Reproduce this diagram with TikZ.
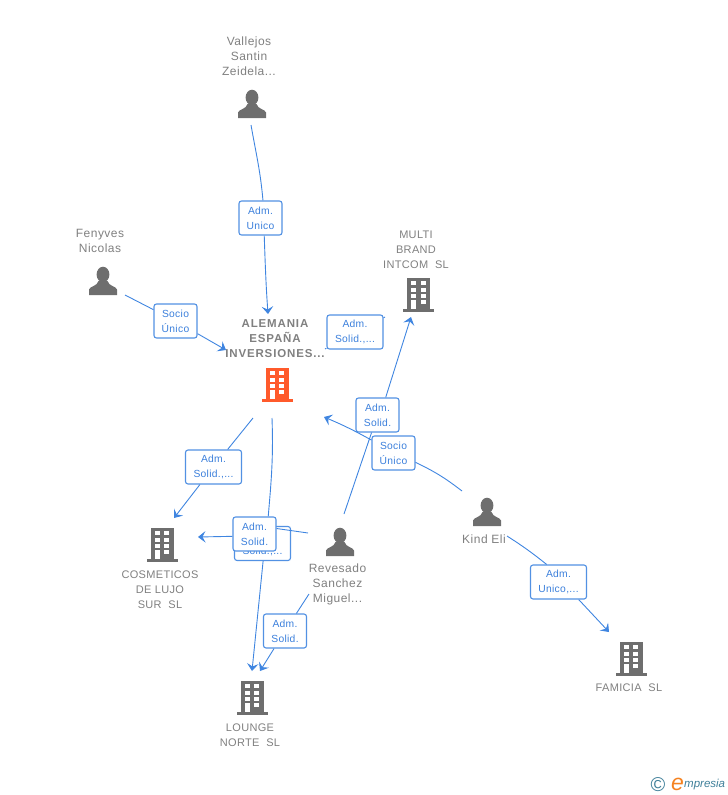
\documentclass[tikz,border=0pt]{standalone}
\usepackage{fontspec}
\setmainfont{Liberation Sans}
\usetikzlibrary{arrows.meta, positioning}

\definecolor{namegray}{HTML}{808080}
\definecolor{icongray}{HTML}{6E6E6E}
\definecolor{linkblue}{HTML}{3F85E0}
\definecolor{labelblue}{HTML}{3C80DC}
\definecolor{mainorange}{HTML}{FF5A2B}
\definecolor{logoteal}{HTML}{3F7F99}
\definecolor{logoorange}{HTML}{F58220}

\tikzset{
    entity/.style={text=namegray, font=\fontsize{11}{15}\selectfont\addfontfeatures{LetterSpace=3}, align=center, inner sep=0pt},
    personname/.style={entity, font=\fontsize{12}{15}\selectfont\addfontfeatures{LetterSpace=4}},
    mainentity/.style={entity, font=\fontsize{11.5}{15}\selectfont\bfseries\addfontfeatures{LetterSpace=7.5}},
    rolebox/.style={draw=linkblue!90!white, line width=1.1pt, fill=white, rounded corners=2.5pt, text=labelblue,
        font=\fontsize{10.3}{15}\selectfont\addfontfeatures{LetterSpace=3}, align=center, inner sep=0pt, minimum height=34pt},
    rolea/.style={rolebox, minimum width=43pt},
    roleb/.style={rolebox, minimum width=56pt},
    link/.style={draw=linkblue, line width=.9pt},
    linkto/.style={link, -{Stealth[length=7.5pt,width=11.5pt,inset=3pt]}},
    pics/tower/.style={code={
        \fill[#1] (-11.5,-17) rectangle (11.5,15);
        \fill[#1] (-15.5,14.2) rectangle (15.5,17);
        \foreach \ypos in {-14,-7.5,-1,5}
            \foreach \xpos in {-7.5,2}
                \fill[white] (\xpos,\ypos) rectangle ++(5.2,4.4);
        \fill[white] (-7.5,5) rectangle (-2.3,14.2);
    }},
    pics/figure/.style={code={
        \fill[icongray] (0,-6.5) ellipse (6.4 and 7.8);
        \fill[icongray] (-14,14) -- (-14,8.5) .. controls (-13,5) and (-6,5.5) .. (-4.5,0)
            -- (4.5,0) .. controls (6,5.5) and (13,5) .. (14,8.5) -- (14,14) -- cycle;
    }},
}

\begin{document}
\begin{tikzpicture}[x=1pt, y=-1pt]
    \useasboundingbox (0,0) rectangle (728,795);

    % Icons
    \pic at (277,385) {tower=mainorange};
    \pic at (418.5,295) {tower=icongray};
    \pic at (162,545) {tower=icongray};
    \pic at (252,698) {tower=icongray};
    \pic at (631,659) {tower=icongray};
    \pic at (252,104) {figure};
    \pic at (103,281) {figure};
    \pic at (340,542) {figure};
    \pic at (487,512) {figure};

    % Names
    \node[mainentity] (alemania) at (275,338.5) {ALEMANIA\\ESPAÑA\\INVERSIONES...};
    \node[personname] (vallejos) at (249,56.5) {Vallejos\\Santin\\Zeidela...};
    \node[personname] (fenyves) at (100,241) {Fenyves\\Nicolas};
    \node[entity] (multi) at (416,249.5) {MULTI\\BRAND\\INTCOM\ \ SL};
    \node[entity] (cosmeticos) at (160,589.5) {COSMETICOS\\DE LUJO\\SUR\ \ SL};
    \node[entity] (lounge) at (250,735) {LOUNGE\\NORTE\ \ SL};
    \node[entity] (famicia) at (629,687.5) {FAMICIA\ \ SL};
    \node[personname] (revesado) at (337.5,584.5) {Revesado\\Sanchez\\Miguel...};
    \node[personname] (kind) at (484,539.5) {Kind Eli};

    % Free ends of the links
    \coordinate (vallejosout) at (251,125);
    \coordinate (alemaniatop) at (268,314);
    \coordinate (fenyvesout) at (125,295);
    \coordinate (alemanialeft) at (226,350);
    \coordinate (alemaniaright) at (325,349);
    \coordinate (multiend) at (385,317);
    \coordinate (multiin) at (411,317);
    \coordinate (revesadotop) at (344,514);
    \coordinate (kindout) at (462,491);
    \coordinate (alemaniabottom) at (324,417);
    \coordinate (alemanialow) at (253,418);
    \coordinate (cosmeticosin) at (174,518);
    \coordinate (alemaniaout) at (272,418);
    \coordinate (loungein) at (252,671);
    \coordinate (revesadoleft) at (308,533);
    \coordinate (cosmeticosright) at (198,537);
    \coordinate (revesadolow) at (309,594);
    \coordinate (loungeright) at (260,671);
    \coordinate (kindlow) at (507,536);
    \coordinate (famiciain) at (609,632);

    % Role boxes
    \node[rolea] (unicoa) at (260.5,218) {Adm.\\Unico};
    \node[rolea] (socioa) at (175.5,321) {Socio\\Único};
    \node[roleb] (solidmulti) at (355,332) {Adm.\\Solid.,...};
    \node[rolea] (solidrev) at (377.5,415) {Adm.\\Solid.};
    \node[rolea] (sociob) at (393.5,453) {Socio\\Único};
    \node[roleb] (solidcos) at (213.5,467) {Adm.\\Solid.,...};
    \node[roleb] (solidlounge) at (262.5,543.5) {Adm.\\Solid.,...};
    \node[rolea] (solidlou) at (285,631) {Adm.\\Solid.};
    \node[roleb] (unicob) at (558.5,582) {Adm.\\Unico,...};

    % Links, cut at the boxes
    \draw[link] (vallejosout) to[out=-80,in=95] (unicoa.82);
    \draw[linkto] (unicoa.-78) to[out=-88,in=94] (alemaniatop);
    \draw[link] (fenyvesout) -- (socioa);
    \draw[linkto] (socioa) -- (alemanialeft);
    \draw[link] (alemaniaright) -- (solidmulti);
    \draw[link] (solidmulti) -- (multiend);
    \draw[link] (revesadotop) -- (solidrev);
    \draw[linkto] (solidrev.65) -- (multiin);
    \draw[link] (kindout) to[bend right=6] (sociob);
    \draw[linkto] (sociob) to[bend right=3] (alemaniabottom);
    \draw[link] (alemanialow) -- (solidcos);
    \draw[linkto] (solidcos) -- (cosmeticosin);
    \draw[linkto] (solidlounge.-88) -- (loungein);
    \draw[link] (revesadolow) -- (solidlou);
    \draw[linkto] (solidlou) -- (loungeright);
    \draw[link] (kindlow) to[bend left=3] (unicob.124);
    \draw[linkto] (unicob.-41) -- (famiciain);

    % Box on top of the others
    \node[rolea] (solidcosb) at (254.5,534) {Adm.\\Solid.};
    \draw[link] (alemaniaout) to[out=-88,in=85] (solidcosb.52);
    \draw[link] (revesadoleft) -- (solidcosb.14);
    \draw[linkto] (solidcosb.186) -- (cosmeticosright);

    % Logo
    \node[text=logoteal, font=\fontsize{20}{20}\selectfont, inner sep=0pt] (copyr) at (658,784.5) {©};
    \node[text=logoorange, font=\fontsize{23}{23}\selectfont\itshape, inner sep=0pt] (logoe) at (677.5,784) {e};
    \node[text=logoteal, font=\fontsize{11.5}{12}\selectfont\itshape, inner sep=0pt, anchor=west] (logotext) at (684,785) {mpresia};
\end{tikzpicture}
\end{document}
